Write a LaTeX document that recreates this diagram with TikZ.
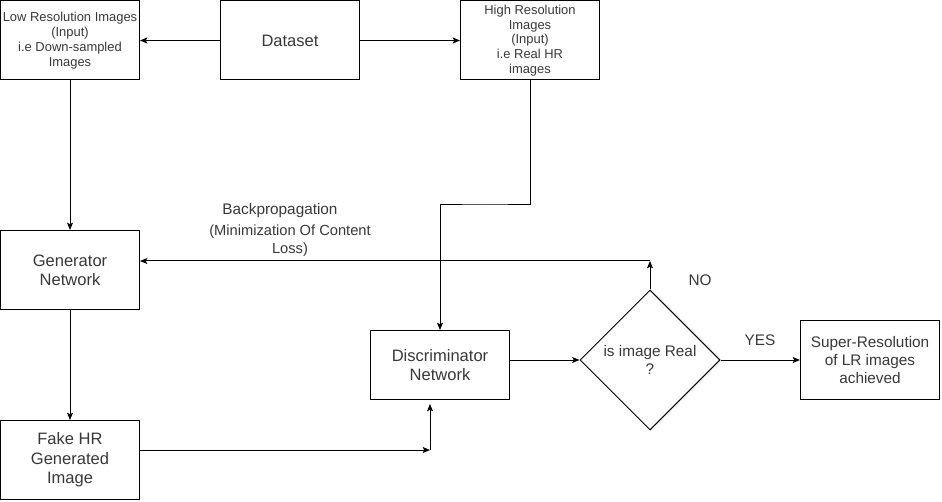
\documentclass[tikz,border=0pt]{standalone}
\usepackage{fontspec}
\setmainfont{Liberation Sans}
\usetikzlibrary{arrows.meta,shapes.geometric}
\begin{document}
\begin{tikzpicture}[x=0.75pt,y=-0.75pt,
  every node/.style={text=black!78},
  bigfont/.style={font=\fontsize{12.4}{14.5}\selectfont},
  midfont/.style={font=\fontsize{11.5}{13.5}\selectfont},
  smallfont/.style={font=\fontsize{9.7}{11.1}\selectfont},
  box/.style={draw=black, line width=0.75pt, minimum width=104.25pt, minimum height=59.25pt, inner sep=0pt, align=center, bigfont},
  dia/.style={draw=black, line width=0.75pt, diamond, minimum width=105pt, minimum height=105pt, inner sep=0pt},
  lbl/.style={inner sep=0pt, align=center, midfont},
  arr/.style={draw=black, line width=0.75pt, -{Stealth[length=5.5pt,width=4.5pt,inset=1.2pt]}}
]
\useasboundingbox (0,0) rectangle (942,502);

\node[box, smallfont] (lr) at (70,40.5) {Low Resolution Images\\(Input)\\i.e Down-sampled\\Images};
\node[box] (ds) at (290,40.5) {Dataset};
\node[box, smallfont] (hr) at (530,40.5) {High Resolution\\Images\\(Input)\\i.e Real HR\\images};
\node[box] (gen) at (70,270) {Generator\\Network};
\node[box] (fake) at (70,460) {Fake HR\\Generated\\Image};
\node[box, minimum height=51.75pt] (disc) at (440,365) {Discriminator\\Network};
\node[dia, label={[lbl]center:is image Real\\?}] (dm) at (650,360) {};
\node[box, midfont] (sr) at (870,360) {Super-Resolution\\of LR images\\achieved};

\node[lbl] (bp) at (280,211) {Backpropagation};
\node[lbl, font=\fontsize{11}{13.5}\selectfont] (mc) at (290,241) {(Minimization Of Content\\Loss)};
\node[lbl] (no) at (700,280) {NO};
\node[lbl] (yes) at (760,340) {YES};

\coordinate (c1) at (430,450);
\coordinate (c2) at (430,404);
\coordinate (j) at (485,205);
\coordinate (n1) at (650,261);

\draw[arr] (ds.west) -- (lr.east);
\draw[arr] (ds.east) -- (hr.west);
\draw[arr] (lr.south) -- (gen.north);
\draw[arr] (gen.south) -- (fake.north);
\draw[arr] (fake.east |- c1) -- (c1);
\draw[arr] (c1) -- (c2);
\draw[arr] (hr.south) |- (j) -| (disc.north);
\draw[arr] (disc.east |- dm.west) -- (dm.west);
\draw[arr] (dm.east) -- (sr.west);
\draw[arr] (dm.north) -- (n1);
\draw[arr] (n1) -- (gen.east |- n1);
\end{tikzpicture}
\end{document}
